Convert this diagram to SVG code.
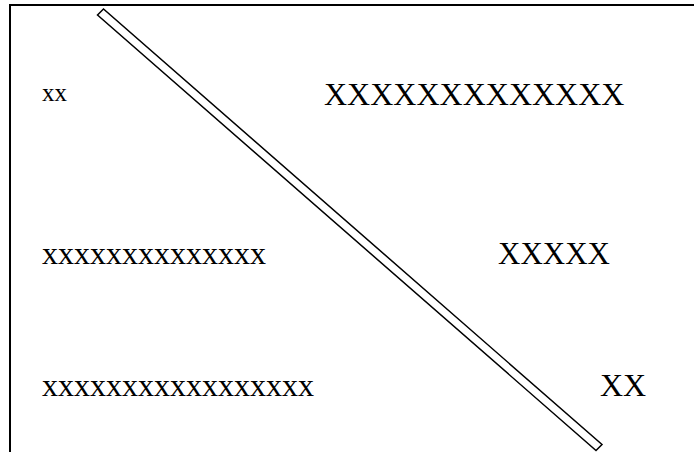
<svg xmlns="http://www.w3.org/2000/svg" width="694" height="452" viewBox="0 0 694 452">
<style>
.t{font-family:"Liberation Serif","Times New Roman",serif;fill:#000;}
.frame{fill:none;stroke:#000;stroke-width:2;}
.bar{fill:#fff;stroke:#000;stroke-width:1.5;}
</style>
<rect width="694" height="452" fill="#fff"/>
<g id="frame"><path class="frame" d="M10,452 V5 H694"/></g>
<g id="connectors"><polygon class="bar" points="97.5,15 103.5,9 602,444.5 596,450.5"/></g>
<g id="n1"><text class="t" x="42" y="101" font-size="25">xx</text></g>
<g id="n2"><text class="t" x="324" y="105" font-size="32">XXXXXXXXXXXXX</text></g>
<g id="n3"><text class="t" x="42" y="264" font-size="32">xxxxxxxxxxxxxx</text></g>
<g id="n4"><text class="t" x="498" y="264" font-size="31">XXXXX</text></g>
<g id="n5"><text class="t" x="42" y="396" font-size="32">xxxxxxxxxxxxxxxxx</text></g>
<g id="n6"><text class="t" x="600" y="396" font-size="32">XX</text></g>
</svg>
